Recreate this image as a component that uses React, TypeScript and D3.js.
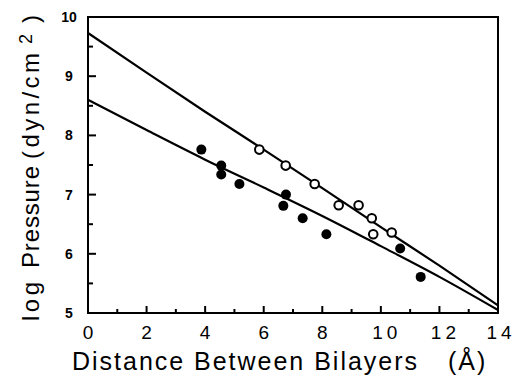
import { useEffect, useRef } from "react";
import * as d3 from "d3";

// open circles (upper series)
const openX = [5.85, 6.75, 7.74, 8.56, 9.24, 9.69, 9.74, 10.37];
const openY = [7.76, 7.49, 7.18, 6.82, 6.82, 6.6, 6.33, 6.36];

// filled circles (lower series)
const filledX = [3.87, 4.55, 4.55, 5.17, 6.76, 6.67, 7.33, 8.14, 10.66, 11.36];
const filledY = [7.76, 7.49, 7.34, 7.18, 7.0, 6.81, 6.6, 6.33, 6.09, 5.61];

// fitted curves
const fitX = [0, 2, 4, 6, 8, 10, 12, 14];
const upperFit = [9.73, 9.06, 8.4, 7.76, 7.11, 6.45, 5.8, 5.13];
const lowerFit = [8.6, 8.09, 7.59, 7.12, 6.64, 6.13, 5.61, 5.05];

const xTicks = [0, 2, 4, 6, 8, 10, 12, 14];
const yTicks = [5, 6, 7, 8, 9, 10];

const FONT = "'Liberation Sans', Arial, Helvetica, sans-serif";

export default function App() {
  const svgRef = useRef<SVGSVGElement>(null);

  useEffect(() => {
    if (!svgRef.current) return;
    document.body.style.margin = "0";

    const svg = d3.select(svgRef.current);
    svg.selectAll("*").remove();

    const margin = { top: 17, right: 16, bottom: 65, left: 88 };
    const width = 514;
    const height = 378;
    const innerWidth = width - margin.left - margin.right;
    const innerHeight = height - margin.top - margin.bottom;

    const g = svg
      .append("g")
      .attr("transform", `translate(${margin.left},${margin.top})`);

    const x = d3.scaleLinear().domain([0, 14]).range([0, innerWidth]);
    const y = d3.scaleLinear().domain([5, 10]).range([innerHeight, 0]);

    // frame
    g.append("rect")
      .attr("width", innerWidth)
      .attr("height", innerHeight)
      .attr("fill", "none")
      .attr("stroke", "#000")
      .attr("stroke-width", 2);

    // x ticks (inward)
    g.append("g")
      .selectAll("line")
      .data(d3.range(0, 15, 1))
      .enter()
      .append("line")
      .attr("x1", (d) => x(d))
      .attr("x2", (d) => x(d))
      .attr("y1", innerHeight)
      .attr("y2", (d) => innerHeight - (d % 2 === 0 ? 7 : 4))
      .attr("stroke", "#000")
      .attr("stroke-width", 2);

    // x tick labels, the two digits set a little apart
    const xLabels = g
      .append("g")
      .selectAll("text")
      .data(xTicks)
      .enter()
      .append("text")
      .attr("x", (d) => x(d) + (d === 14 ? 1 : d >= 10 ? 4 : 0))
      .attr("y", innerHeight + 26)
      .attr("text-anchor", "middle")
      .attr("font-family", FONT)
      .attr("font-size", 19);

    xLabels.each(function (d) {
      const t = d3.select(this);
      const s = String(d);
      t.append("tspan").text(s[0]);
      if (s.length > 1) t.append("tspan").attr("dx", 4).text(s.slice(1));
    });

    // y ticks (inward)
    g.append("g")
      .selectAll("line")
      .data(d3.range(5, 10.01, 0.5))
      .enter()
      .append("line")
      .attr("x1", 0)
      .attr("x2", (d) => (Number.isInteger(d) ? 8 : 5))
      .attr("y1", (d) => y(d))
      .attr("y2", (d) => y(d))
      .attr("stroke", "#000")
      .attr("stroke-width", 2);

    g.append("g")
      .selectAll("text")
      .data(yTicks)
      .enter()
      .append("text")
      .attr("x", -19)
      .attr("y", (d) => y(d) + 5)
      .attr("text-anchor", "middle")
      .attr("font-family", FONT)
      .attr("font-size", 14)
      .attr("font-weight", "bold")
      .text((d) => String(d));

    // fitted lines
    const line = d3
      .line<number>()
      .x((d, i) => x(fitX[i]))
      .y((d) => y(d))
      .curve(d3.curveMonotoneX);

    [upperFit, lowerFit].forEach((fit) => {
      g.append("path")
        .attr("d", line(fit))
        .attr("fill", "none")
        .attr("stroke", "#000")
        .attr("stroke-width", 2.2);
    });

    // open circles
    g.append("g")
      .selectAll("circle")
      .data(openX)
      .enter()
      .append("circle")
      .attr("cx", (d) => x(d))
      .attr("cy", (d, i) => y(openY[i]))
      .attr("r", 4.3)
      .attr("fill", "#fff")
      .attr("stroke", "#000")
      .attr("stroke-width", 2);

    // filled circles
    g.append("g")
      .selectAll("circle")
      .data(filledX)
      .enter()
      .append("circle")
      .attr("cx", (d) => x(d))
      .attr("cy", (d, i) => y(filledY[i]))
      .attr("r", 5)
      .attr("fill", "#000");

    // x title
    const xt = svg
      .append("text")
      .attr("y", 370)
      .attr("font-family", FONT)
      .attr("font-size", 25);
    xt.append("tspan")
      .attr("x", 72)
      .attr("textLength", 345)
      .attr("lengthAdjust", "spacing")
      .text("Distance Between Bilayers");
    xt.append("tspan").attr("x", 448).attr("letter-spacing", 2).text("(Å)");

    // y title
    const yt = svg
      .append("text")
      .attr("transform", "translate(39,321) rotate(-90)")
      .attr("font-family", FONT)
      .attr("font-size", 24);
    yt.append("tspan")
      .attr("x", 0)
      .attr("textLength", 39)
      .attr("lengthAdjust", "spacing")
      .text("log");
    yt.append("tspan")
      .attr("x", 53)
      .attr("textLength", 102)
      .attr("lengthAdjust", "spacing")
      .text("Pressure");
    yt.append("tspan")
      .attr("x", 162)
      .attr("textLength", 106)
      .attr("lengthAdjust", "spacing")
      .text("(dyn/cm");
    yt.append("tspan")
      .attr("x", 277)
      .attr("dy", -7)
      .attr("font-size", 18)
      .text("2");
    yt.append("tspan").attr("x", 298).attr("dy", 7).text(")");
  }, []);

  return <svg ref={svgRef} width={514} height={378} style={{ display: "block" }} />;
}
